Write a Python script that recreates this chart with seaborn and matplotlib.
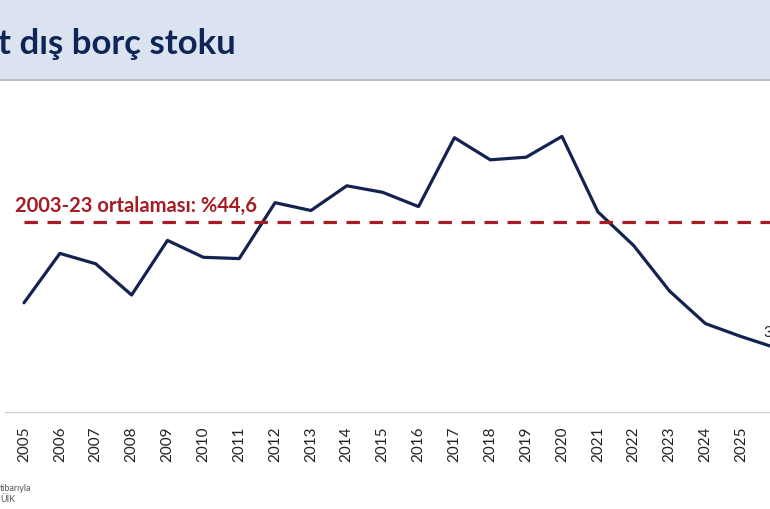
import matplotlib
matplotlib.use("Agg")
import matplotlib.pyplot as plt
from matplotlib.lines import Line2D
from matplotlib.patches import Rectangle
import seaborn as sns
import pandas as pd

# data (share of GDP, %)
years = list(range(2005, 2027))
ratio = [38.4, 42.2, 41.4, 39.0, 43.2, 41.9, 41.8, 46.1, 45.5, 47.4, 46.9,
         45.8, 51.1, 49.4, 49.6, 51.2, 45.4, 42.8, 39.3, 36.8, 35.8, 34.9]
avg_value = 44.6
avg_label = "2003-23 ortalaması: %44,6"
last_label = "34,9"
title = "t dış borç stoku"
notes = ["tibarıyla", "ÜİK"]

sns.set_theme(style="white")
plt.rcParams["font.family"] = ["Lato", "DejaVu Sans"]

W, H = 770, 510
fig = plt.figure(figsize=(W / 100, H / 100), dpi=100)

# title band
fig.patches.append(Rectangle((0, 1 - 80 / H), 1, 80 / H, transform=fig.transFigure,
                             facecolor="#dbe3f0", edgecolor="none", zorder=0))
fig.add_artist(Line2D([0, 1], [1 - 81 / H] * 2, color="#b9bdc6", lw=1.5))
fig.text(-2 / W, 1 - 44 / H, title, fontsize=25, fontweight="bold",
         color="#0f2557", va="center", ha="left")

ax = fig.add_axes([5 / W, 97 / H, 765 / W, 325 / H])
df = pd.DataFrame({"yil": years, "oran": ratio})
sns.lineplot(data=df, x="yil", y="oran", ax=ax, color="#13224f", lw=2.3)
ax.plot([years[0], years[-1] + 1], [avg_value, avg_value], color="#a51c24",
        lw=2.3, dashes=(4.2, 3.0))
ax.annotate(last_label, xy=(years[-1], ratio[-1]), xytext=(-10, 7),
            textcoords="offset points", ha="left", va="bottom",
            fontsize=11, color="#222222", annotation_clip=False)

ax.set_xlim(2004.47, 2025.80)
ax.set_ylim(30, 55)
ax.set_xticks(years[:-1])
ax.set_xticklabels([str(y) for y in years[:-1]], rotation=90, fontsize=11,
                   color="#222222")
ax.tick_params(axis="x", length=0, pad=10)
ax.set_yticks([])
ax.set_xlabel("")
ax.set_ylabel("")
for s in ["top", "right", "left"]:
    ax.spines[s].set_visible(False)
ax.spines["bottom"].set_color("#d0d0d0")
ax.spines["bottom"].set_linewidth(1)

fig.text(15 / W, 1 - 206 / H, avg_label, fontsize=14.5, fontweight="bold",
         color="#a51c24", va="center", ha="left")

fig.text(0, 1 - 489 / H, notes[0], fontsize=6.5, color="#555555", va="center")
fig.text(0, 1 - 500 / H, notes[1], fontsize=6.5, color="#555555", va="center")

fig.savefig("out.png", dpi=100)
